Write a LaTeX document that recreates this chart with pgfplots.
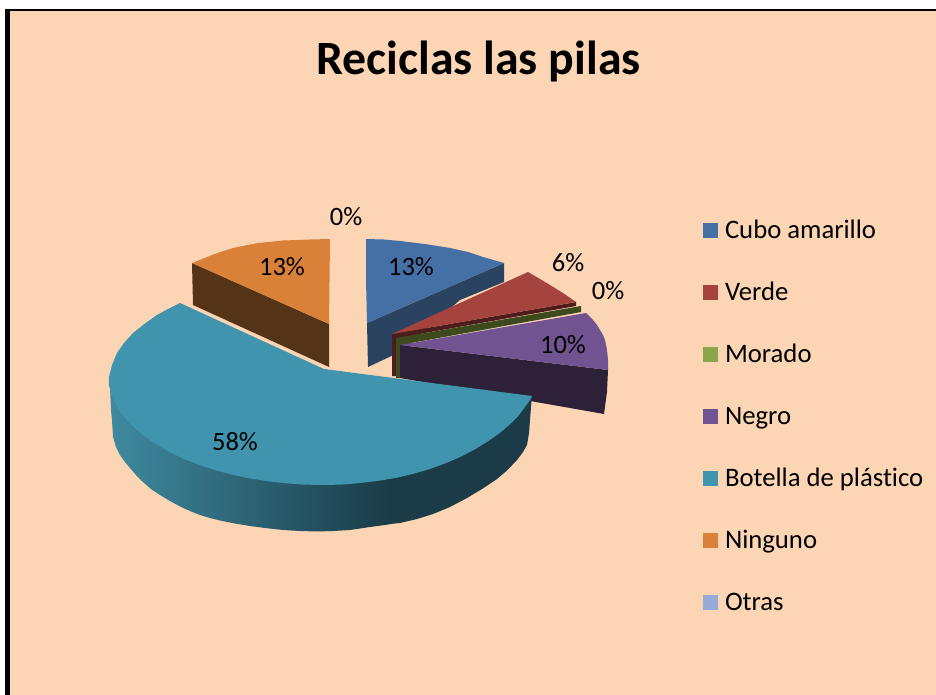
\documentclass[border=0pt]{standalone}
\usepackage{pgfplots}
\usepackage{fontspec}
\setmainfont[Ligatures=NoCommon]{Carlito}
\pgfplotsset{compat=1.18}
\definecolor{bg}{HTML}{FCD5B5}
\definecolor{azul}{HTML}{4470A5}
\definecolor{azulosc}{HTML}{2A4361}
\definecolor{rojo}{HTML}{A5433F}
\definecolor{rojoosc}{HTML}{4E1C1A}
\definecolor{verde}{HTML}{8BA54D}
\definecolor{verdeosc}{HTML}{3C4A1E}
\definecolor{lila}{HTML}{705390}
\definecolor{lilaosc}{HTML}{2C2138}
\definecolor{teal}{HTML}{4094AE}
\definecolor{tealosc}{HTML}{1A3B47}
\definecolor{tealmed}{HTML}{30677A}
\definecolor{tealcla}{HTML}{3E8AA0}
\definecolor{naranja}{HTML}{D98039}
\definecolor{naranjaosc}{HTML}{553316}
\definecolor{otras}{HTML}{96ABD5}
\newcommand{\lab}[3]{\node[font=\fontsize{26.5}{30}\selectfont,text=black] at (axis cs:#1,#2) {#3};}
\begin{document}
\begin{tikzpicture}
\begin{axis}[
    width=936pt, height=695pt, scale only axis,
    xmin=0, xmax=936, ymin=0, ymax=695,
    y dir=reverse,
    hide axis,
    legend style={
        at={(axis cs:703,220)}, anchor=north west,
        draw=none, fill=none, inner sep=0pt, outer sep=0pt,
        font=\fontsize{26.7}{30}\selectfont,
        nodes={text height=18pt, text depth=6pt, inner sep=0pt},
        row sep=38pt, /tikz/column 1/.style={column sep=7pt},
    },
    legend cell align=left,
    legend image code/.code={\path[#1,draw=none] (0pt,-5.5pt) rectangle (15pt,9.5pt);},
    title={\bfseries\fontsize{47.8}{54}\selectfont Reciclas las pilas},
    title style={at={(axis cs:478.5,81)}, anchor=base, inner sep=0pt},
]
% legend first, everything drawn afterwards is forget plot
\addlegendimage{fill=azul}\addlegendentry{Cubo amarillo}
\addlegendimage{fill=rojo}\addlegendentry{Verde}
\addlegendimage{fill=verde}\addlegendentry{Morado}
\addlegendimage{fill=lila}\addlegendentry{Negro}
\addlegendimage{fill=teal}\addlegendentry{Botella de plástico}
\addlegendimage{fill=naranja}\addlegendentry{Ninguno}
\addlegendimage{fill=otras}\addlegendentry{Otras}

% page and frame
\addplot[fill=white, draw=none, forget plot] coordinates {(0,0) (936,0) (936,695) (0,695)};
\addplot[fill=black, draw=none, forget plot] coordinates {(5,9) (936,9) (936,695) (5,695)};
\addplot[fill=bg, draw=none, forget plot] coordinates {(10,11.5) (936,11.5) (936,695) (10,695)};

% Ninguno
\addplot[fill=naranjaosc, draw=none, forget plot] coordinates {(192,263) (329,324) (329,367) (193,305)};
\addplot[fill=naranja, draw=none, forget plot] coordinates {
(330,239) (310,239.5) (283,240.5) (258,243) (245,245.5) (233,248) (222,251.5) (212,255) (202,259) (192,263) (329,324)};

% Cubo amarillo
\addplot[fill=azulosc, draw=none, forget plot] coordinates {(367,323) (504,263) (504,282) (460,300) (400,352) (368,367)};
\addplot[fill=azul, draw=none, forget plot] coordinates {
(366,239) (384,239.5) (400,241) (425,244) (450,248) (468,252) (483,257) (504,263) (367,323) (366,280)};

% Verde
\addplot[fill=rojoosc, draw=none, forget plot] coordinates {(392,334) (576,302) (576,306) (397,338) (397,376) (392,376)};
\addplot[fill=rojo, draw=none, forget plot] coordinates {
(392,334) (528,272) (540,279) (550,285) (563,293) (576,302)};

% Morado
\addplot[fill=verdeosc, draw=none, forget plot] coordinates {(396,338) (581,306) (581,312) (400,345) (400,378) (396,378)};

% Negro
\addplot[fill=lilaosc, draw=none, forget plot] coordinates {(400,345) (608,370) (607,392) (604,414) (400,378)};
\addplot[fill=lila, draw=none, forget plot] coordinates {
(400,345) (586,313) (593,320) (597,325) (600,330) (603,335) (605,340) (607,350) (608,360) (608,370)};

% Botella de plastico: side (shaded part, dark part), then top
\addplot[left color=tealcla, middle color=tealmed, right color=tealosc, draw=none, forget plot] coordinates {
(109,378) (110,387) (111,410) (112,420) (113,437) (116,447) (120,455) (125,462) (130,468) (136,475) (143,482)
(151,489) (160,495) (170,501) (180,506.5) (190,511) (200,515) (210,518) (220,520.5) (235,523.5) (250,526) (265,528)
(283,530) (300,531) (317,531.5) (333,531) (350,530) (370,527) (385,525) (391,524) (391,440)};
\addplot[fill=tealosc, draw=none, forget plot] coordinates {
(390,440) (390,524) (400,523) (417,519) (433,514) (450,507) (467,498) (482,489) (497,479) (507,470.5) (517,460)
(523,452) (527,445) (529,433) (530,420) (531,407) (532,396)};
\addplot[fill=teal, draw=none, forget plot] coordinates {
(324,369) (180,303) (168,309) (157,315) (145,323.5) (133,333) (124,343) (117,353) (112,365) (109,377)
(108.8,384.6) (111.3,394.1) (115.3,403.5) (121,412.6) (128.1,421.5) (136.8,430) (146.9,438.1) (158.3,445.7)
(171,452.8) (184.8,459.3) (199.7,465.1) (215.5,470.3) (232.1,474.7) (249.5,478.4) (267.4,481.2) (285.7,483.3)
(304.3,484.6) (323,485) (341.7,484.6) (360.3,483) (378.6,480.8) (396.5,477.8) (413.9,473.7) (430.5,468.8)
(446.3,463) (461.2,456.5) (475,449.3) (487.7,441.5) (499.1,433.5) (509.2,425) (517.9,416.5) (525,407) (530,400) (532,396)};

\lab{346}{217}{0\%}
\lab{282}{267}{13\%}
\lab{411}{267}{13\%}
\lab{568}{263}{6\%}
\lab{608}{291}{0\%}
\lab{563}{345}{10\%}
\lab{235}{442}{58\%}
\end{axis}
\end{tikzpicture}
\end{document}
